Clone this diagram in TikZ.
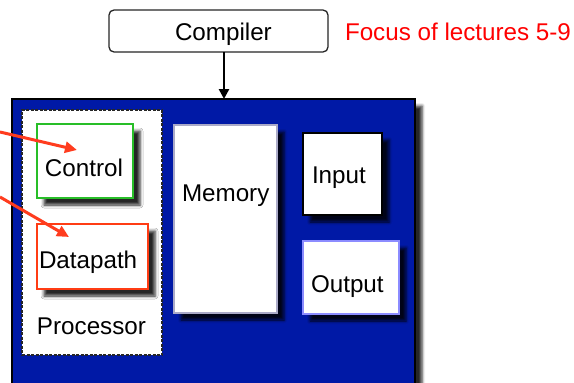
\documentclass[tikz,border=0pt]{standalone}
\usepackage{fontspec}
\setmainfont{Liberation Sans}
\usetikzlibrary{shadows.blur,arrows.meta}
\definecolor{boardblue}{RGB}{0,25,166}
\definecolor{arrowred}{RGB}{255,60,30}
\definecolor{ctrlgreen}{RGB}{40,190,40}
\definecolor{dpred}{RGB}{255,60,20}
\definecolor{outblue}{RGB}{140,140,255}
\definecolor{memgray}{RGB}{170,170,200}
\definecolor{focusred}{RGB}{255,0,0}

\begin{document}
\begin{tikzpicture}[x=1pt,y=-1pt,
  every node/.style={inner sep=0pt, outer sep=0pt},
  lbl/.style={anchor=base west, font=\fontsize{24.2}{29}\selectfont},
  unitbox/.style={draw, fill=white, anchor=north west, line width=1.2pt,
    blur shadow={shadow xshift=7pt, shadow yshift=-7pt,
      shadow blur radius=3pt, shadow opacity=85}},
  pointer/.style={draw=arrowred, line width=3pt,
    -{Triangle[length=12pt,width=11pt]}},
  feedarrow/.style={draw=black, line width=2.6pt,
    -{Triangle[length=10pt,width=10pt]}},
]
\clip (0,0) rectangle (574,383);

% computer board
\node[draw=black, line width=1.2pt, fill=boardblue, anchor=north west,
  minimum width=403pt, minimum height=310pt,
  blur shadow={shadow xshift=7pt, shadow yshift=-7pt,
    shadow blur radius=3pt, shadow opacity=85}] (board) at (12,99) {};

% processor outline
\node[draw=black!85, dash pattern=on 3pt off 1.5pt, line width=1.3pt,
  fill=white, anchor=north west, minimum width=140pt,
  minimum height=245pt] (processor) at (22,110) {};
\node[lbl] (processorlbl) at (37,334) {Processor};

% units
\node[unitbox, draw=ctrlgreen, minimum width=96pt, minimum height=74pt]
  (control) at (37,124) {};
\node[lbl] (controllbl) at (45,176) {Control};

\node[unitbox, draw=dpred, minimum width=111pt, minimum height=65pt]
  (datapath) at (37,224) {};
\node[lbl] (datapathlbl) at (39,268) {Datapath};

\node[unitbox, draw=memgray, minimum width=103pt, minimum height=188pt]
  (memory) at (174,125) {};
\node[lbl] (memorylbl) at (182,201) {Memory};

\node[unitbox, draw=black, minimum width=79pt, minimum height=82pt]
  (input) at (303,133) {};
\node[lbl] (inputlbl) at (312,183) {Input};

\node[unitbox, draw=outblue, minimum width=96pt, minimum height=73pt]
  (output) at (303,241) {};
\node[lbl] (outputlbl) at (311,292) {Output};

% compiler
\node[draw=black!85, line width=1.3pt, rounded corners=5pt, fill=white,
  anchor=north west, minimum width=219pt, minimum height=42pt]
  (compiler) at (109,10) {};
\node[lbl] (compilerlbl) at (175,40) {Compiler};
\node[lbl, text=focusred] (focus) at (345,40) {Focus of lectures 5-9};

\draw[feedarrow] ([xshift=5.5pt]compiler.south)
  -- ([xshift=5.5pt]compiler.south |- board.north);

% pointers into the processor
\coordinate (ctrlsrc) at (0,132);
\coordinate (ctrltip) at (77,150);
\coordinate (dpsrc) at (0,197);
\coordinate (dptip) at (69,237);
\draw[pointer] (ctrlsrc) -- (ctrltip);
\draw[pointer] (dpsrc) -- (dptip);
\end{tikzpicture}
\end{document}
